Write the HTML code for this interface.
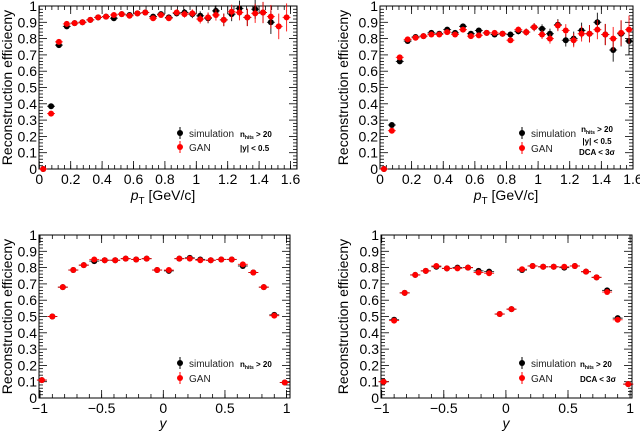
<!DOCTYPE html>
<html><head><meta charset="utf-8"><style>
html,body{margin:0;padding:0;background:#fff;}
svg{display:block;font-family:"Liberation Sans",sans-serif;}
</style></head><body>
<svg id="c" width="640" height="432" viewBox="0 0 640 432" xmlns="http://www.w3.org/2000/svg"></svg>
<script>
const ptCenters=[0.025,0.075,0.125,0.175,0.225,0.275,0.325,0.375,0.425,0.475,0.525,0.575,0.625,0.675,0.725,0.775,0.825,0.875,0.925,0.975,1.025,1.075,1.125,1.175,1.225,1.275,1.325,1.375,1.425,1.475,1.525,1.575];
const tlSim=[0,0.385,0.76,0.875,0.895,0.9,0.915,0.93,0.935,0.925,0.95,0.945,0.955,0.96,0.935,0.95,0.93,0.955,0.96,0.95,0.94,0.925,0.97,0.915,0.95,0.985,0.93,0.98,0.96,0.9];
const tlGan=[0,0.34,0.78,0.89,0.895,0.9,0.915,0.93,0.935,0.945,0.95,0.94,0.955,0.96,0.925,0.945,0.925,0.96,0.95,0.955,0.92,0.93,0.945,0.915,0.965,0.96,0.93,0.955,0.96,0.935,0.875,0.93];
const trSim=[0,0.27,0.66,0.785,0.81,0.815,0.835,0.83,0.855,0.835,0.875,0.83,0.85,0.835,0.825,0.83,0.825,0.845,0.84,0.87,0.86,0.83,0.885,0.79,0.8,0.85,0.83,0.9,0.825,0.73,0.83,0.785];
const trGan=[0,0.235,0.685,0.795,0.805,0.815,0.825,0.825,0.84,0.825,0.855,0.815,0.82,0.835,0.835,0.83,0.79,0.855,0.84,0.87,0.825,0.8,0.88,0.85,0.79,0.83,0.83,0.855,0.825,0.8,0.835,0.855];
const yCenters=[-0.985,-0.9,-0.815,-0.73,-0.645,-0.56,-0.475,-0.39,-0.305,-0.22,-0.135,-0.05,0.045,0.13,0.215,0.3,0.385,0.47,0.555,0.645,0.73,0.815,0.9,0.985];
const blSim=[0.11,0.5,0.68,0.785,0.815,0.84,0.845,0.845,0.855,0.85,0.855,0.785,0.78,0.855,0.86,0.85,0.845,0.85,0.85,0.81,0.77,0.68,0.51,0.095];
const blGan=[0.11,0.5,0.68,0.785,0.815,0.85,0.845,0.845,0.855,0.85,0.855,0.785,0.785,0.855,0.855,0.845,0.845,0.85,0.85,0.82,0.77,0.68,0.505,0.095];
const brSim=[0.1,0.48,0.645,0.755,0.78,0.805,0.795,0.8,0.8,0.78,0.775,0.515,0.545,0.785,0.81,0.805,0.805,0.8,0.81,0.775,0.74,0.66,0.49,0.085];
const brGan=[0.1,0.475,0.645,0.755,0.78,0.81,0.795,0.795,0.8,0.77,0.765,0.515,0.545,0.79,0.81,0.805,0.805,0.805,0.81,0.775,0.74,0.65,0.48,0.085];
const ptTicks=["0","0.2","0.4","0.6","0.8","1","1.2","1.4","1.6"];
const yTicksTop=["0","0.1","0.2","0.3","0.4","0.5","0.6","0.7","0.8","0.9","1"];
const rapTicks=["−1","−0.5","0","0.5","1"];

const svg=document.getElementById('c');
const NS='http://www.w3.org/2000/svg';
function el(tag,attrs,parent){const e=document.createElementNS(NS,tag);for(const k in attrs)e.setAttribute(k,attrs[k]);(parent||svg).appendChild(e);return e;}

function panel(cfg){
  const g=el('g',{});
  
  
  const L=cfg.L,R=cfg.R,T=cfg.T,B=cfg.B;
  const sx=v=>cfg.x0+(v-cfg.xmin)*cfg.xs;
  const sy=v=>B-v*(B-T);
  const fr=el('rect',{x:L,y:T,width:R-L,height:B-T,fill:'none',stroke:'#000','stroke-width':1},g);
  
  
  for(let i=0;i<=50;i++){const v=i/50,y=sy(v),len=(i%5==0)?8:4;
    el('line',{x1:L,y1:y,x2:L+len,y2:y,stroke:'#000','stroke-width':0.8},g);
    el('line',{x1:R,y1:y,x2:R-len,y2:y,stroke:'#000','stroke-width':0.8},g);}
  yTicksTop.forEach((t,i)=>{const tx=el('text',{x:L-2,y:sy(i/10)+5,'font-size':14,'text-anchor':'end'},g);tx.textContent=t;
    });
  cfg.xminor.forEach(v=>{const x=sx(v);if(x<L-0.5||x>R+0.5)return;
    el('line',{x1:x,y1:B,x2:x,y2:B-4,stroke:'#000','stroke-width':0.8},g);
    el('line',{x1:x,y1:T,x2:x,y2:T+4,stroke:'#000','stroke-width':0.8},g);});
  cfg.xmajor.forEach((v,i)=>{const x=sx(v);
    el('line',{x1:x,y1:B,x2:x,y2:B-8,stroke:'#000','stroke-width':0.8},g);
    el('line',{x1:x,y1:T,x2:x,y2:T+8,stroke:'#000','stroke-width':0.8},g);
    const tx=el('text',{x:x,y:B+15,'font-size':14,'text-anchor':'middle'},g);tx.textContent=cfg.xlabels[i];
    });
  const yt=el('text',{x:0,y:0,'font-size':14,'text-anchor':'middle',transform:`translate(${cfg.ytx},${(T+B)/2}) rotate(-90)`},g);
  yt.textContent='Reconstruction efficiecny';
  
  const xt=el('text',{x:cfg.xtx,y:cfg.xty,'font-size':14,'text-anchor':'middle'},g);
  xt.innerHTML=cfg.xtitle;
  
  function series(xs,ys,color,name,errFn){
    const sg=el('g',{},g);
    
    ys.forEach((v,i)=>{const x=sx(xs[i]),y=sy(v),e=errFn(i)*(B-T),hw=cfg.hw*cfg.xs;
      el('line',{x1:x-hw,y1:y,x2:x+hw,y2:y,stroke:color,'stroke-width':1,opacity:0.85},sg);
      if(e>0.5)el('line',{x1:x,y1:y-e,x2:x,y2:y+e,stroke:color,'stroke-width':1,opacity:0.85},sg);
      const c=el('circle',{cx:x,cy:y,r:3,fill:color},sg);
      });
  }
  series(cfg.xs_,cfg.sim,'#000','simulation-series',cfg.err);
  series(cfg.xs_,cfg.gan,'#f00','gan-series',cfg.err);
  const lg=el('g',{},g);
  [['#000','simulation',cfg.ly1],['#f00','GAN',cfg.ly2]].forEach(([c,t,y])=>{
    el('line',{x1:cfg.lx,y1:y-6,x2:cfg.lx,y2:y+6,stroke:c,'stroke-width':1},lg);
    el('circle',{cx:cfg.lx,cy:y,r:3,fill:c},lg);
    const tx=el('text',{x:cfg.lx+9,y:y+4,'font-size':10,fill:'#222'},lg);tx.textContent=t;
    });
  cfg.cuts.forEach(([t,x,y,a])=>{const tx=el('text',{x:x,y:y,'font-size':8,'font-weight':'bold','text-anchor':a||'start'},g);tx.innerHTML=t;
    });
}
const nh='n<tspan font-size="5" dy="2">hits</tspan><tspan dy="-2"> &gt; 20</tspan>';
const ptErr=i=>i<3?0.006:Math.min(0.12,0.006+Math.pow(i/31,3)*0.08);
const ptMinor=[];for(let i=0;i<=41;i++)ptMinor.push(i*0.04);
const yMinor=[];for(let i=0;i<=20;i++)yMinor.push(-1+i*0.1);
const ptX=[0,0.2,0.4,0.6,0.8,1,1.2,1.4,1.6];
const rapX=[-1,-0.5,0,0.5,1];
panel({name:'panel-pt-nhits',L:39,R:297,T:6,B:169,x0:39.3,xmin:0,xs:157,xmajor:ptX,xminor:ptMinor,xlabels:ptTicks,xs_:ptCenters,sim:tlSim,gan:tlGan,err:ptErr,hw:0.025,
  ytx:12,xtx:163,xty:200,xtitle:'<tspan font-style="italic">p</tspan><tspan font-size="10" dy="4">T</tspan><tspan dy="-4"> [GeV/c]</tspan>',
  lx:180,ly1:133,ly2:147,cuts:[[nh,240,137],['|y| &lt; 0.5',240,151]]});
panel({name:'panel-pt-dca',L:380,R:633,T:6,B:169,x0:380,xmin:0,xs:158.1,xmajor:ptX,xminor:ptMinor,xlabels:ptTicks,xs_:ptCenters,sim:trSim,gan:trGan,err:ptErr,hw:0.025,
  ytx:348,xtx:506,xty:200,xtitle:'<tspan font-style="italic">p</tspan><tspan font-size="10" dy="4">T</tspan><tspan dy="-4"> [GeV/c]</tspan>',
  lx:522,ly1:133,ly2:148,cuts:[[nh,597,132,'middle'],['|y| &lt; 0.5',597,144,'middle'],['DCA &lt; 3σ',597,155,'middle']]});
panel({name:'panel-y-nhits',L:39,R:290,T:235,B:398,x0:40,xmin:-1,xs:123.3,xmajor:rapX,xminor:yMinor,xlabels:rapTicks,xs_:yCenters,sim:blSim,gan:blGan,err:()=>0.006,hw:0.04,
  ytx:12,xtx:163,xty:428,xtitle:'<tspan font-style="italic">y</tspan>',
  lx:180,ly1:363,ly2:378,cuts:[[nh,240,367]]});
panel({name:'panel-y-dca',L:381,R:632,T:235,B:398,x0:381.7,xmin:-1,xs:124.2,xmajor:rapX,xminor:yMinor,xlabels:rapTicks,xs_:yCenters,sim:brSim,gan:brGan,err:()=>0.006,hw:0.04,
  ytx:348,xtx:506,xty:428,xtitle:'<tspan font-style="italic">y</tspan>',
  lx:522,ly1:363,ly2:378,cuts:[[nh,580,367],['DCA &lt; 3σ',580,382]]});
</script>
</body></html>
